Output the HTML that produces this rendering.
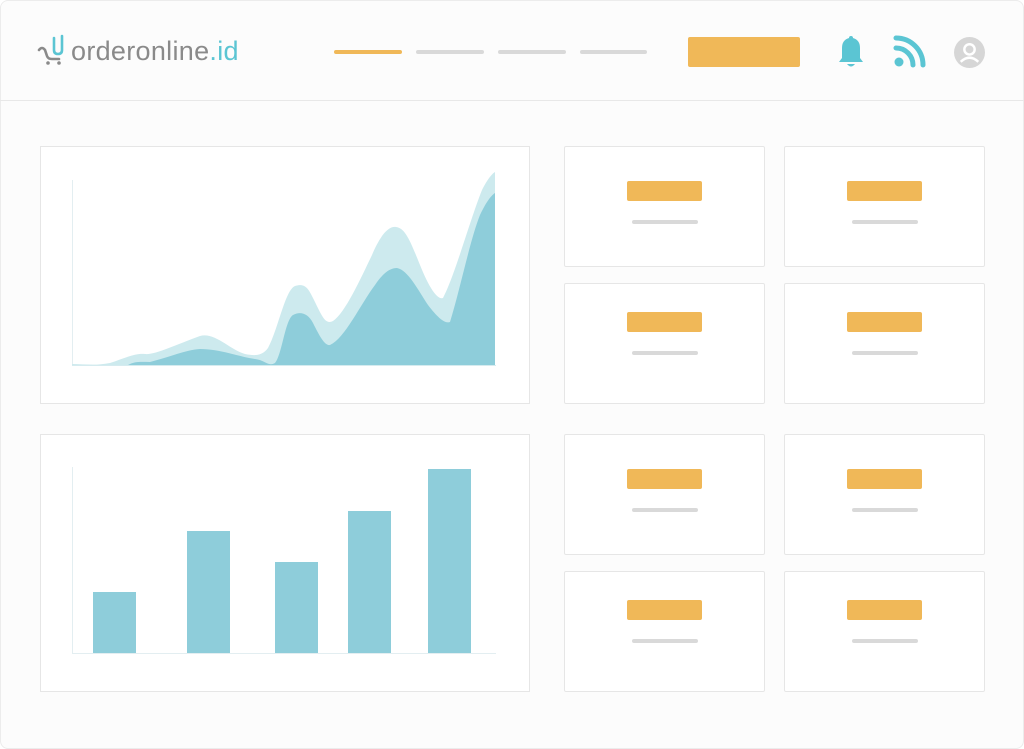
<!DOCTYPE html>
<html><head><meta charset="utf-8"><style>
body{margin:0;background:#fff;width:1024px;height:749px;overflow:hidden;font-family:"Liberation Sans",sans-serif}
.frame{position:absolute;left:0;top:0;width:1022px;height:747px;border:1px solid #ececec;border-radius:8px;background:#fcfcfc}
.abs{position:absolute}
.card{position:absolute;width:199px;height:119px;border:1px solid #e6e6e6;background:#fff;border-radius:2px}
.card .o{position:absolute;left:62px;width:75px;height:20px;background:#f0b858;border-radius:2px}
.card .g{position:absolute;left:67px;width:66px;height:4px;background:#d9d9d9;border-radius:2px}
</style></head><body>
<div class="frame"></div>
<div class="abs" style="left:0;top:100px;width:1024px;height:1px;background:#e8e8e8"></div>
<div class="abs" style="left:37px;top:32px;font-size:27px;color:#8a8a8a;letter-spacing:0.3px;">
<svg width="30" height="34" style="vertical-align:-6px" viewBox="0 0 30 34"><path d="M2 18 Q5 14 8 18 L10 24 Q11 27 15 27 L22 27" stroke="#8a8a8a" stroke-width="2.6" fill="none" stroke-linecap="round"/><path d="M17 6 V18 Q17 22 21 22 Q25 22 25 18 V4" stroke="#5bc5d3" stroke-width="2.6" fill="none" stroke-linecap="round"/><circle cx="11" cy="31" r="1.8" fill="#8a8a8a"/><circle cx="22" cy="31" r="1.8" fill="#8a8a8a"/></svg><span style="margin-left:4px">orderonline</span><span style="color:#5bc5d3">.id</span></div>
<div class="abs" style="left:334px;top:50px;width:68px;height:4px;background:#f0b858;border-radius:2px"></div>
<div class="abs" style="left:416px;top:50px;width:68px;height:4px;background:#d9d9d9;border-radius:2px"></div>
<div class="abs" style="left:498px;top:50px;width:68px;height:4px;background:#d9d9d9;border-radius:2px"></div>
<div class="abs" style="left:580px;top:50px;width:67px;height:4px;background:#d9d9d9;border-radius:2px"></div>
<div class="abs" style="left:688px;top:37px;width:112px;height:30px;background:#f0b858;border-radius:2px"></div>
<svg class="abs" style="left:836px;top:34px" width="30" height="36" viewBox="0 0 30 36"><path d="M15 2 Q17 2 17 4 Q24 6 24 14 V24 L27 28 H3 L6 24 V14 Q6 6 13 4 Q13 2 15 2Z" fill="#5bc5d3"/><path d="M11 30 Q15 35 19 30Z" fill="#5bc5d3"/></svg>
<svg class="abs" style="left:893px;top:35px" width="34" height="34" viewBox="0 0 34 34"><circle cx="6" cy="27" r="4.5" fill="#5bc5d3"/><path d="M3 13 A17 17 0 0 1 20 30" stroke="#5bc5d3" stroke-width="5" fill="none" stroke-linecap="round"/><path d="M3 3 A27 27 0 0 1 30 30" stroke="#5bc5d3" stroke-width="5" fill="none" stroke-linecap="round"/></svg>
<svg class="abs" style="left:954px;top:37px" width="31" height="31" viewBox="0 0 30 30"><circle cx="15" cy="15" r="15" fill="#d6d6d6"/><circle cx="15" cy="12" r="5" fill="none" stroke="#fff" stroke-width="2.4"/><path d="M6.5 24 Q15 16 23.5 24" stroke="#fff" stroke-width="2.4" fill="none"/></svg>

<div class="abs" style="left:40px;top:146px;width:488px;height:256px;border:1px solid #e6e6e6;background:#fff"></div>
<div class="abs" style="left:40px;top:434px;width:488px;height:256px;border:1px solid #e6e6e6;background:#fff"></div>
<svg class="abs" style="left:0;top:0" width="1024" height="749">
<line x1="72.5" y1="180" x2="72.5" y2="365" stroke="#e3eef1" stroke-width="1"/>
<path d="M72 364 C85 364 95 366 110 363 C125 358 135 353 145 354 C155 355 175 345 200 336 C215 332 230 350 245 354 C255 356 262 356 268 348 C278 330 285 290 295 286 C305 283 308 288 313 298 C322 316 325 325 333 321 C345 313 360 280 372 255 C380 236 388 226 396 227 C405 228 410 240 420 265 C430 290 438 300 443 298 C455 275 470 220 482 190 C488 178 493 173 495 172 L495 365 L72 365Z" fill="#cdeaee"/>
<path d="M128 365 C135 361 142 362 150 362 C170 357 185 350 200 349 C220 349 240 357 255 359 C265 360 268 367 275 363 C282 355 285 320 293 315 C300 311 308 313 313 323 C320 337 325 346 330 345 C345 338 360 305 375 285 C383 273 390 268 397 268 C408 270 418 290 428 305 C438 318 445 324 450 322 C460 290 470 240 480 215 C487 200 492 195 495 193 L495 365Z" fill="#8ecdda"/>
<line x1="72" y1="365.5" x2="496" y2="365.5" stroke="#d5ebef"/>
<line x1="72.5" y1="467" x2="72.5" y2="653" stroke="#e3eef1"/>
<line x1="72" y1="653.5" x2="496" y2="653.5" stroke="#e3eef1"/>
<rect x="93" y="592" width="43" height="61" fill="#8ecdda"/>
<rect x="187" y="531" width="43" height="122" fill="#8ecdda"/>
<rect x="275" y="562" width="43" height="91" fill="#8ecdda"/>
<rect x="348" y="511" width="43" height="142" fill="#8ecdda"/>
<rect x="428" y="469" width="43" height="184" fill="#8ecdda"/>
</svg>

<div class="card" style="left:564px;top:146px"><div class="o" style="top:34px"></div><div class="g" style="top:73px"></div></div>
<div class="card" style="left:784px;top:146px"><div class="o" style="top:34px"></div><div class="g" style="top:73px"></div></div>
<div class="card" style="left:564px;top:283px"><div class="o" style="top:28px"></div><div class="g" style="top:67px"></div></div>
<div class="card" style="left:784px;top:283px"><div class="o" style="top:28px"></div><div class="g" style="top:67px"></div></div>
<div class="card" style="left:564px;top:434px"><div class="o" style="top:34px"></div><div class="g" style="top:73px"></div></div>
<div class="card" style="left:784px;top:434px"><div class="o" style="top:34px"></div><div class="g" style="top:73px"></div></div>
<div class="card" style="left:564px;top:571px"><div class="o" style="top:28px"></div><div class="g" style="top:67px"></div></div>
<div class="card" style="left:784px;top:571px"><div class="o" style="top:28px"></div><div class="g" style="top:67px"></div></div>
</body></html>
